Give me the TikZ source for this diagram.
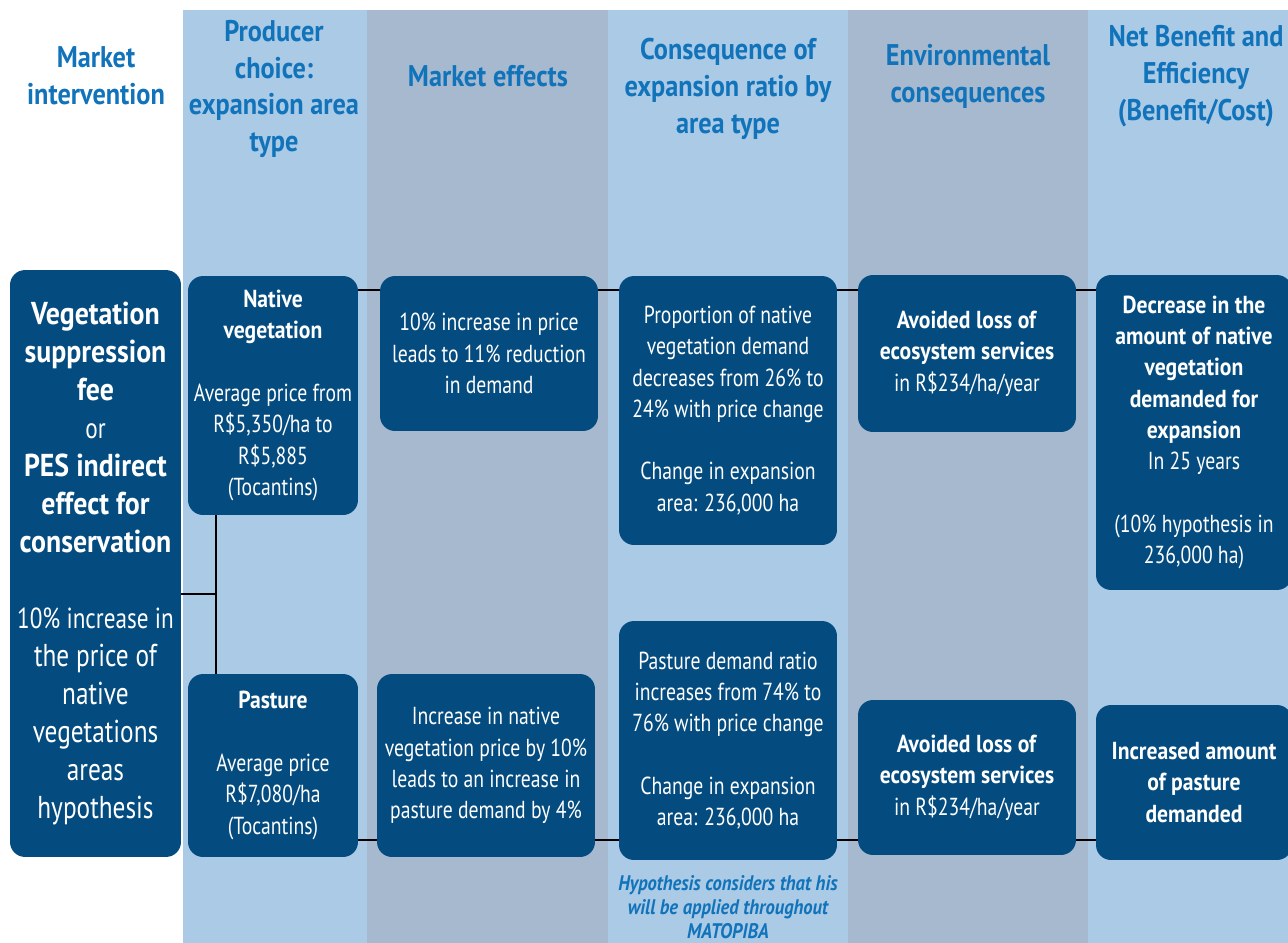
\documentclass[tikz,border=0pt]{standalone}
\usepackage{fontspec}
\setmainfont{PT Sans}[FakeStretch=0.8, BoldFeatures={FakeStretch=0.88},
  BoldItalicFeatures={FakeStretch=0.88}]
\definecolor{boxblue}{HTML}{044B7F}
\definecolor{headblue}{HTML}{1173BA}
\definecolor{lightcol}{HTML}{AACAE6}
\definecolor{greycol}{HTML}{A6B9CF}
\def\gap{\\[\baselineskip]}
\tikzset{
  stage/.style={fill=boxblue, text=white, rounded corners=0.3cm, align=center,
    inner sep=0pt, font=\fontsize{14}{17.8}\selectfont},
  colhead/.style={text=headblue, align=center, font=\bfseries\fontsize{17}{21}\selectfont},
  note/.style={text=headblue, align=center, font=\bfseries\itshape\fontsize{12}{13.6}\selectfont},
  link/.style={line width=1.2pt},
}

\begin{document}
\begin{tikzpicture}[x=0.02cm,y=-0.02cm]
\useasboundingbox (0,0) rectangle (1288,943);
\clip (0,0) rectangle (1288,943);
% column stripes
\fill[lightcol] (183,10) rectangle (367,943);
\fill[greycol]  (367,10) rectangle (608,943);
\fill[lightcol] (608,10) rectangle (848,943);
\fill[greycol]  (848,10) rectangle (1088,943);
\fill[lightcol] (1088,10) rectangle (1288,943);
% column heads
\node[colhead] (hmarket) at (96,76)   {Market\\intervention};
\node[colhead] (hchoice) at (274,89)  {Producer\\choice:\\expansion area\\type};
\node[colhead] (heffect) at (488,76)  {Market effects};
\node[colhead] (hratio)  at (728,89)  {Consequence of\\expansion ratio by\\area type};
\node[colhead] (henv)    at (968,76)  {Environmental\\consequences};
\node[colhead] (hnet)    at (1196,76) {Net Benefit and\\Efficiency\\(Benefit/Cost)};
% boxes
\node[stage, minimum width=3.42cm, minimum height=11.74cm,
  font=\fontsize{18}{21.6}\selectfont] (fee) at (95.5,563.5)
  {\textbf{Vegetation}\\\textbf{suppression}\\\textbf{fee}\\{\fontsize{16.5}{21.6}\selectfont or}\\\textbf{PES indirect}\\\textbf{effect for}\\\textbf{conservation}\gap
   \fontsize{16.5}{21.6}\selectfont 10\% increase in\\the price of\\native\\vegetations\\areas\\hypothesis};
\node[stage, minimum width=3.4cm, minimum height=4.78cm] (native) at (273,395.5)
  {\textbf{Native}\\\textbf{vegetation}\gap Average price from\\R\$5,350/ha to\\R\$5,885\\(Tocantins)};
\node[stage, minimum width=3.4cm, minimum height=3.66cm] (pasture) at (273,765.5)
  {\textbf{Pasture}\gap Average price\\R\$7,080/ha\\(Tocantins)};
\node[stage, minimum width=4.36cm, minimum height=3.1cm] (mkt1) at (489,353.5)
  {10\% increase in price\\leads to 11\% reduction\\in demand};
\node[stage, minimum width=4.36cm, minimum height=3.66cm] (mkt2) at (486,765.5)
  {Increase in native\\vegetation price by 10\%\\leads to an increase in\\pasture demand by 4\%};
\node[stage, minimum width=4.36cm, minimum height=5.38cm] (cons1) at (728,410.5)
  {Proportion of native\\vegetation demand\\decreases from 26\% to\\24\% with price change\gap
   Change in expansion\\area: 236,000 ha};
\node[stage, minimum width=4.36cm, minimum height=4.78cm] (cons2) at (728,740.5)
  {Pasture demand ratio\\increases from 74\% to\\76\% with price change\gap
   Change in expansion\\area: 236,000 ha};
\node[stage, minimum width=4.36cm, minimum height=3.14cm] (env1) at (967,353.5)
  {\textbf{Avoided loss of}\\\textbf{ecosystem services}\\in R\$234/ha/year};
\node[stage, minimum width=4.36cm, minimum height=3.1cm] (env2) at (967,777.5)
  {\textbf{Avoided loss of}\\\textbf{ecosystem services}\\in R\$234/ha/year};
\node[stage, minimum width=3.92cm, minimum height=6.3cm] (net1) at (1194,432.5)
  {\textbf{Decrease in the}\\\textbf{amount of native}\\\textbf{vegetation}\\\textbf{demanded for}\\\textbf{expansion}\\In 25 years\gap
   (10\% hypothesis in\\236,000 ha)};
\node[stage, minimum width=3.92cm, minimum height=3.1cm] (net2) at (1194,782.5)
  {\textbf{Increased amount}\\\textbf{of pasture}\\\textbf{demanded}};
\node[note] (hyp) at (728,907) {Hypothesis considers that his\\will be applied throughout\\MATOPIBA};
% connectors
\coordinate (split) at (216,594);
\coordinate (toprow) at (0,290);
\coordinate (lowrow) at (0,840);
\draw[link] (fee.east |- split) -- (split);
\draw[link] (split |- native.south) -- (split |- pasture.north);
\foreach \a/\b in {native/mkt1, mkt1/cons1, cons1/env1, env1/net1}
  \draw[link] (\a.east |- toprow) -- (\b.west |- toprow);
\foreach \a/\b in {pasture/mkt2, mkt2/cons2, cons2/env2, env2/net2}
  \draw[link] (\a.east |- lowrow) -- (\b.west |- lowrow);
\end{tikzpicture}
\end{document}
